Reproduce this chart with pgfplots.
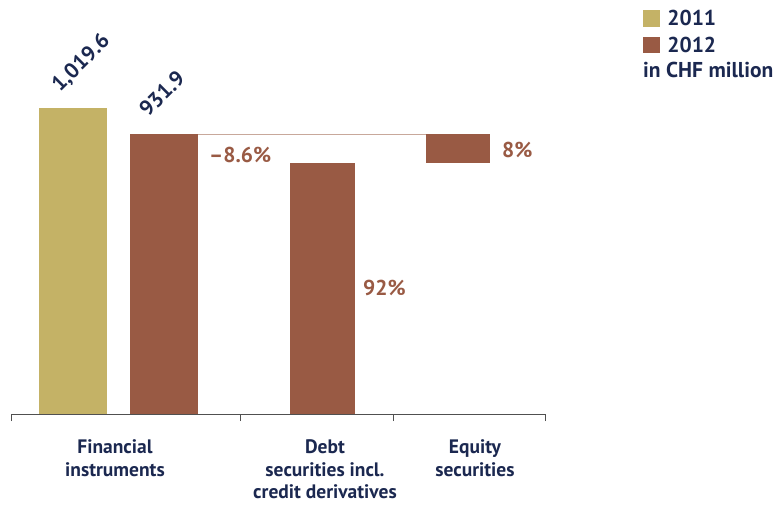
\documentclass[border=0pt]{standalone}
\usepackage{pgfplots}
\pgfplotsset{compat=1.18}
\usepackage{fontspec}
\setmainfont{PT Sans}
\definecolor{gold}{RGB}{196,178,102}
\definecolor{brownbar}{RGB}{153,90,68}
\definecolor{navy}{RGB}{27,40,80}
\definecolor{conn}{RGB}{200,168,155}
\definecolor{axisgray}{RGB}{80,80,80}
\newcommand{\catfont}{\fontsize{19.5}{22.5}\selectfont\bfseries}
\newcommand{\valfont}{\fontsize{21.5}{25}\selectfont\bfseries}
\begin{document}
\begin{tikzpicture}[x=1pt,y=1pt]
\useasboundingbox (0,0) rectangle (780,504);
\begin{axis}[
  at={(11pt,90pt)}, anchor=south west,
  scale only axis, width=534pt, height=414pt,
  xmin=11, xmax=545, ymin=0, ymax=1379.5,
  clip=false,
  hide y axis, axis x line*=bottom,
  axis line style={axisgray, line width=1pt},
  xtick={11,240.5,393,545}, xticklabels={,,,},
  tick align=outside, major tick length=7pt,
  tick style={axisgray, line width=1pt},
  extra x ticks={115,325,475},
  extra x tick labels={{Financial\\instruments},{Debt\\securities incl.\\credit derivatives},{Equity\\securities}},
  extra x tick style={major tick length=0pt,
    tick label style={align=center, font=\catfont, text=navy, anchor=north, inner sep=0pt, yshift=-25.5pt}},
  legend style={at={(1.1835,0.9758)}, anchor=north west, draw=none, fill=none,
    inner sep=0pt, outer sep=0pt, row sep=9.5pt,
    nodes={inner sep=0pt, anchor=base west, text=navy, font=\valfont},
    /tikz/every odd column/.append style={column sep=8pt}},
  legend cell align=left,
]
\addlegendimage{legend image code/.code={\fill[gold] (0pt,0pt) rectangle (16pt,15.5pt);}}
\addlegendentry{2011}
\addlegendimage{legend image code/.code={\fill[brownbar] (0pt,0pt) rectangle (16pt,15.5pt);}}
\addlegendentry{2012}
\addplot[ybar, bar width=68, fill=gold, draw=none, forget plot] coordinates {(73,1019.6)};
\addplot[ybar, bar width=68, fill=brownbar, draw=none, forget plot] coordinates {(164,931.9)};
\addplot[ybar, bar width=65, fill=brownbar, draw=none, forget plot] coordinates {(322.5,836)};
\addplot[fill=brownbar, draw=none, forget plot] coordinates {(426,836) (490,836) (490,931.9) (426,931.9)} -- cycle;
\addplot[conn, line width=1.5pt, forget plot] coordinates {(198,931.9) (426,931.9)};
\node[rotate=45, anchor=base west, inner sep=0pt, text=navy, font=\valfont] at (axis cs:60,1069.6) {1,019.6};
\node[rotate=45, anchor=base west, inner sep=0pt, text=navy, font=\valfont] at (axis cs:148,986.3) {931.9};
\node[anchor=west, inner sep=0pt, text=brownbar, font=\valfont] at (axis cs:209,863) {\textendash8.6\%};
\node[anchor=west, inner sep=0pt, text=brownbar, font=\valfont] at (axis cs:502,879.6) {8\%};
\node[anchor=west, inner sep=0pt, text=brownbar, font=\valfont] at (axis cs:363,419.8) {92\%};
\end{axis}
\node[anchor=base west, inner sep=0pt, text=navy, font=\valfont] at (643,426) {in CHF million};
\end{tikzpicture}
\end{document}
